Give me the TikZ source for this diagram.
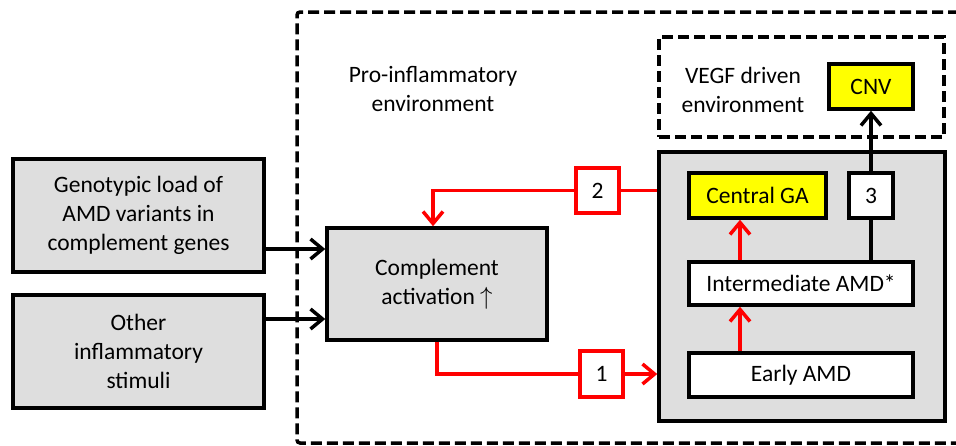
\documentclass[tikz,border=0pt]{standalone}
\usepackage{fontspec}
\setmainfont{Carlito}
\usepackage{xcolor}
\usetikzlibrary{arrows.meta,positioning,calc}

\definecolor{boxgray}{HTML}{DEDEDE}
\definecolor{amdyellow}{HTML}{FFFF00}

\begin{document}
\begin{tikzpicture}[
  x=1pt,
  y=-1pt,
  font=\fontsize{23.5}{29}\selectfont,
  line cap=butt,
  line join=miter,
  plain box/.style={draw=black,line width=3.5pt,inner sep=0pt,align=center},
  gray box/.style={plain box,fill=boxgray},
  white box/.style={plain box,fill=white},
  yellow box/.style={plain box,fill=amdyellow},
  number box/.style={plain box,fill=white,minimum width=43pt,minimum height=45pt},
  red number/.style={number box,draw=red},
  env frame/.style={draw=black,line width=3.5pt,dash pattern=on 11pt off 5pt},
  black arrow/.style={
    draw=black,
    line width=3.5pt,
    -{Straight Barb[length=12pt,width=20pt,line width=3.5pt]}
  },
  black link/.style={draw=black,line width=3.5pt},
  red arrow/.style={
    draw=red,
    line width=3.5pt,
    -{Straight Barb[length=12pt,width=20pt,line width=3.5pt]}
  },
  red link/.style={draw=red,line width=3.5pt}
]
  \path[use as bounding box] (0,0) rectangle (956,445);

  % environments: pro-inflammatory (open at the right) and VEGF driven
  \draw[env frame,rounded corners=3pt] (975,12) -- (297,12) -- (297,443) -- (975,443);
  \node[env frame,minimum width=285pt,minimum height=100pt] (vegf) at (801.5,87) {};
  \node[align=center] (prolabel) at (433,89) {Pro-inflammatory\\environment};
  \node[align=center] (vegflabel) at (743,89.5) {VEGF driven\\environment};

  % inputs on the left
  \node[gray box,minimum width=251pt,minimum height=113pt] (geno) at (138.5,215.5)
    {Genotypic load of\\AMD variants in\\complement genes};
  \node[gray box,minimum width=251pt,minimum height=113pt] (other) at (138.5,351.5)
    {Other\\inflammatory\\stimuli};
  \node[gray box,minimum width=220pt,minimum height=112pt] (compl) at (437,284)
    {Complement\\activation $\uparrow$};

  % disease stages
  \node[gray box,minimum width=286pt,minimum height=269pt] (stage) at (802,286.5) {};
  \node[yellow box,minimum width=84pt,minimum height=45pt] (cnv) at (871,86.5) {CNV};
  \node[yellow box,minimum width=137pt,minimum height=45pt] (ga) at (757.5,195.5) {Central GA};
  \node[number box,minimum width=44pt] (n3) at (871,195.5) {3};
  \node[white box,minimum width=224pt,minimum height=43pt] (inter) at (801,283.5) {Intermediate AMD*};
  \node[white box,minimum width=224pt,minimum height=44pt] (early) at (801,375) {Early AMD};

  % numbered routes
  \node[red number] (n2) at (597.5,190.5) {2};
  \node[red number,minimum height=46pt] (n1) at (601.5,374) {1};

  \coordinate (upin) at (0,249);
  \coordinate (lowin) at (0,319);
  \coordinate (stepx) at (740,0);

  \draw[black arrow] (geno.east |- upin) -- (compl.west |- upin);
  \draw[black arrow] (other.east |- lowin) -- (compl.west |- lowin);

  \draw[red link] (stage.west |- n2) -- (n2.east);
  \draw[red arrow] (n2.west) -| ($(compl.north)+(-4,0)$);
  \draw[red link] (compl.south) |- (n1.west);
  \draw[red arrow] (n1.east) -- (stage.west |- n1);

  \draw[red arrow] (early.north -| stepx) -- (inter.south -| stepx);
  \draw[red arrow] (inter.north -| stepx) -- (ga.south -| stepx);

  \draw[black link] (inter.north -| n3) -- (n3.south);
  \draw[black arrow] (n3.north) -- (cnv.south);
\end{tikzpicture}
\end{document}
